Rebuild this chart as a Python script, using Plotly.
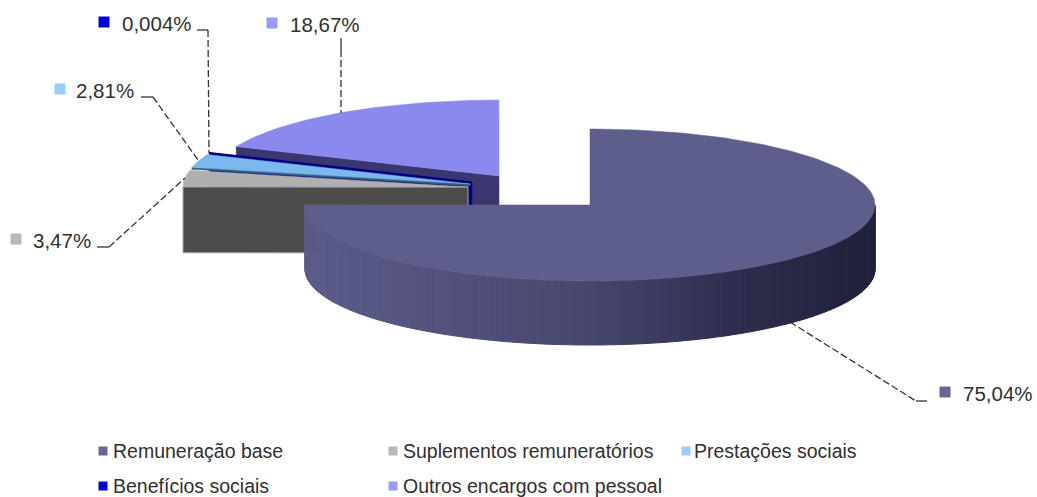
import numpy as np
import plotly.graph_objects as go

categories = ["Remuneração base", "Suplementos remuneratórios", "Prestações sociais", "Benefícios sociais", "Outros encargos com pessoal"]
values = [75.04, 3.47, 2.81, 0.004, 18.67]
value_labels = ["75,04%", "3,47%", "2,81%", "0,004%", "18,67%"]
top_colors = ["#5e5e8c", "#b0b0b0", "#7ab8ee", "#000090", "#8a8aee"]
face_colors = ["#3a3a60", "#4c4c4a", "#3a5f7a", "#000080", "#3a3670"]
key_colors = ["#666699", "#b8b8b8", "#99ccff", "#0000e0", "#9999ff"]

RX, RY, DEPTH = 285, 76, 64
centers = [(590, 205), (468, 187), (470, 184), (472, 182), (499, 176)]
depths = [64, 66, 2, 64, 64]

edges = np.cumsum([0] + values) / 100 * 2 * np.pi


def rim(c, a):
    a = np.asarray(a)
    return c[0] + RX * np.sin(a), c[1] - RY * np.cos(a)


fig = go.Figure()


def poly(x, y, fill, line=None, w=0.5):
    fig.add_trace(go.Scatter(x=list(x), y=list(y), mode="lines", fill="toself", fillcolor=fill,
                             line=dict(color=line or fill, width=w), hoverinfo="skip", showlegend=False))


def slice_top(i):
    a = np.linspace(edges[i], edges[i + 1], 240 if i == 0 else 40)
    x, y = rim(centers[i], a)
    poly([centers[i][0], *x, centers[i][0]], [centers[i][1], *y, centers[i][1]], top_colors[i])


def radial_face(i, a, line=None, w=0.5):
    c = centers[i]
    rx, ry = rim(c, a)
    d = depths[i]
    poly([rx, c[0], c[0], rx, rx], [ry, c[1], c[1] + d, ry + d, ry], face_colors[i], line, w)


def wall_color(t):
    stops = [(0, (92, 92, 138)), (0.5, (70, 70, 110)), (0.75, (46, 46, 78)), (1, (31, 33, 58))]
    for (t0, c0), (t1, c1) in zip(stops, stops[1:]):
        if t <= t1:
            f = (t - t0) / (t1 - t0)
            return "rgb(%d,%d,%d)" % tuple(round(p + (q - p) * f) for p, q in zip(c0, c1))
    return "rgb(31,33,58)"


# Back to front: other charges, benefits, social payments, supplements, base pay
radial_face(4, edges[4])
slice_top(4)
radial_face(3, edges[3], "#000080", 0.5)
x0, y0 = rim(centers[3], edges[3])
fig.add_trace(go.Scatter(x=[x0, centers[3][0]], y=[y0, centers[3][1]], mode="lines",
                         line=dict(color="#000080", width=1.2), hoverinfo="skip", showlegend=False))
radial_face(2, edges[2])
slice_top(2)
radial_face(1, edges[1], "#a8a8a8", 1)
slice_top(1)

# Outer wall of the base-pay slice, shaded in strips
steps = np.linspace(np.pi / 2, edges[1], 151)
for a0, a1 in zip(steps[:-1], steps[1:]):
    xs, ys = rim(centers[0], np.array([a0, a1]))
    tt = (xs.mean() - (centers[0][0] - RX)) / (2 * RX)
    col = wall_color(tt)
    poly([xs[0], xs[1], xs[1], xs[0], xs[0]],
         [ys[0], ys[1], ys[1] + DEPTH, ys[0] + DEPTH, ys[0]], col, col, 1)
slice_top(0)

# Leader lines
leaders = [
    ([916, 927], [401, 401], [790, 916], [322, 401]),
    ([97, 109], [247, 247], [109, 185], [247, 178]),
    ([141, 153], [97, 97], [153, 198], [97, 160]),
    ([197, 208], [30, 30], [208, 209], [30, 153]),
    ([341, 341], [38, 50], [341, 341], [50, 113]),
]
for sx, sy, dx, dy in leaders:
    fig.add_trace(go.Scatter(x=sx, y=sy, mode="lines", line=dict(color="#333333", width=1.3),
                             hoverinfo="skip", showlegend=False))
    fig.add_trace(go.Scatter(x=dx, y=dy, mode="lines", line=dict(color="#333333", width=1.3, dash="7px,3px"),
                             hoverinfo="skip", showlegend=False))

# Data labels with colour keys
label_keys = [(945, 392), (16, 239), (60, 89), (104, 22), (272, 23)]
label_text = [(961, 393), (31, 240), (74, 90), (120, 23), (288, 24)]
fig.add_trace(go.Scatter(x=[p[0] for p in label_keys], y=[p[1] for p in label_keys], mode="markers",
                         marker=dict(symbol="square", size=11, color=key_colors), hoverinfo="skip", showlegend=False))
for t, p in zip(value_labels, label_text):
    fig.add_annotation(x=p[0], y=p[1], text=t, showarrow=False, xanchor="left", yanchor="middle",
                       font=dict(family="Liberation Sans", size=20.5, color="#303030"))

# Legend
legend_keys = [(103, 451), (393, 451), (686, 451), (103, 486), (393, 486)]
legend_text = [(111, 451), (401, 451), (692, 451), (111, 486), (401, 486)]
fig.add_trace(go.Scatter(x=[p[0] for p in legend_keys], y=[p[1] for p in legend_keys], mode="markers",
                         marker=dict(symbol="square", size=9, color=key_colors), hoverinfo="skip", showlegend=False))
for t, p in zip(categories, legend_text):
    fig.add_annotation(x=p[0], y=p[1], text=t, showarrow=False, xanchor="left", yanchor="middle",
                       font=dict(family="Liberation Sans", size=19.5, color="#303030"))

fig.update_layout(
    width=1037, height=497, margin=dict(l=0, r=0, t=0, b=0),
    paper_bgcolor="white", plot_bgcolor="white", showlegend=False,
    xaxis=dict(range=[0, 1037], visible=False, fixedrange=True),
    yaxis=dict(range=[497, 0], visible=False, fixedrange=True),
)
fig.write_html("out.html", config=dict(displayModeBar=False),
               post_script="document.body.style.margin='0';document.documentElement.style.overflow='hidden';")
